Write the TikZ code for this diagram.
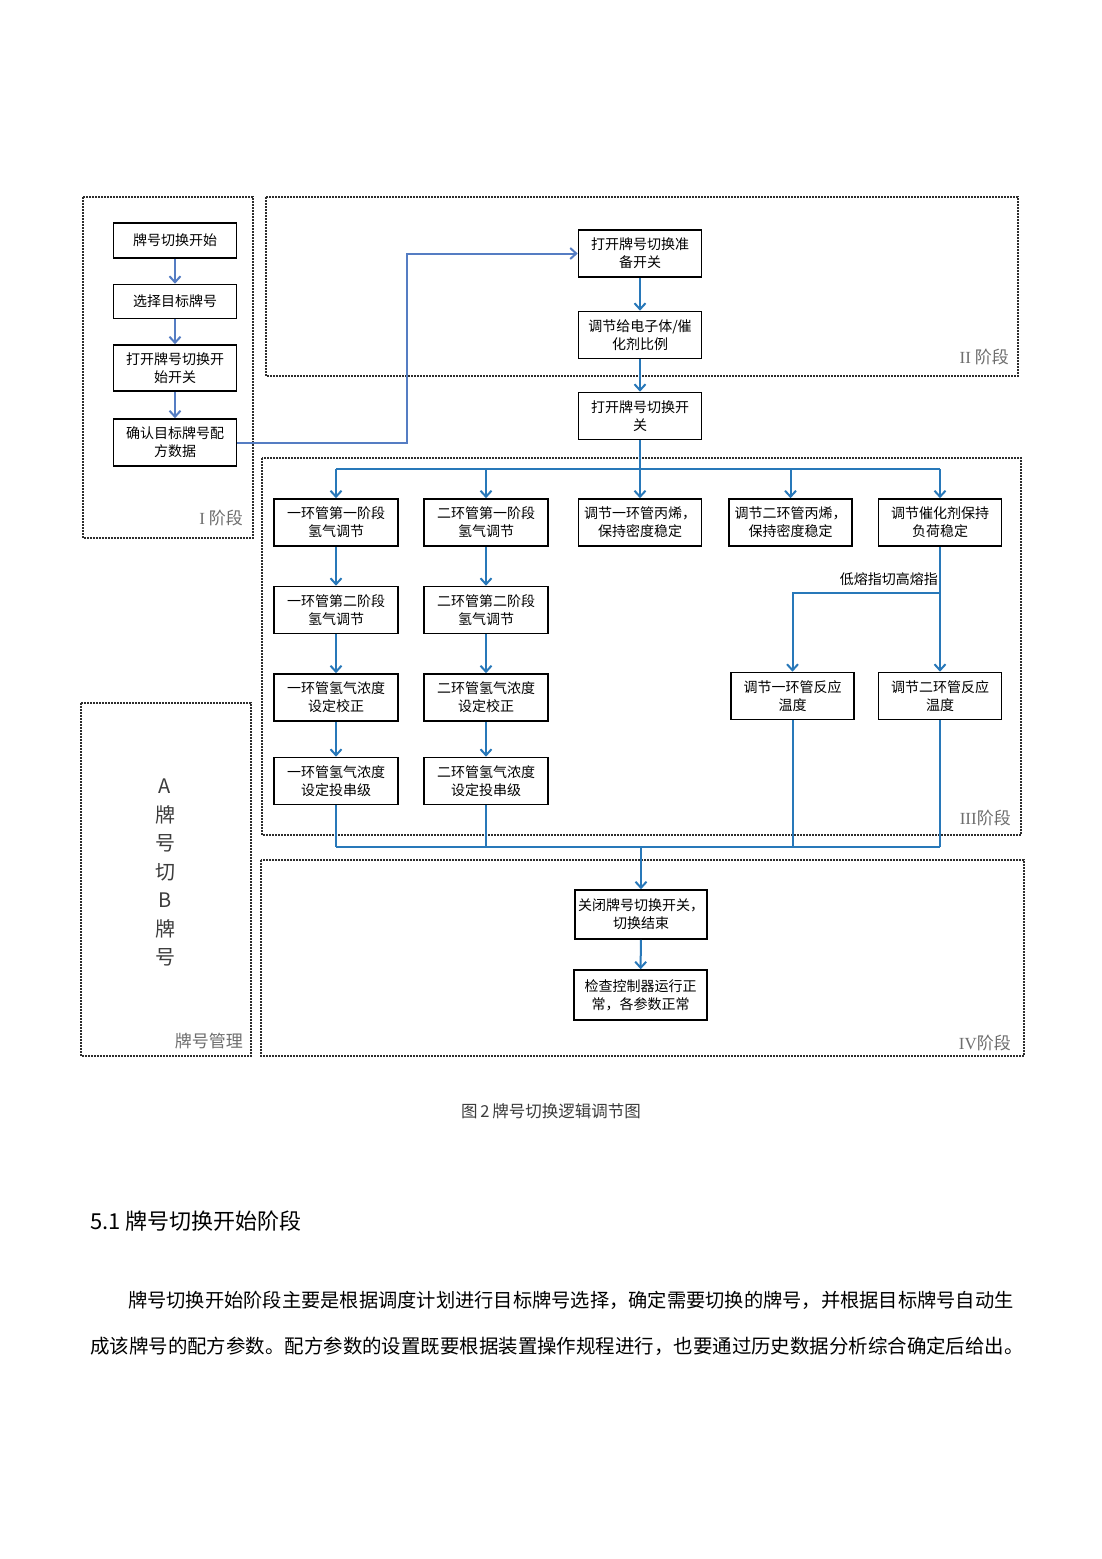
\documentclass[tikz,border=0pt]{standalone}
\usepackage{fontspec}
\setmainfont{Noto Sans CJK SC}
\newfontfamily\romanfont{Liberation Serif}
\usepackage{xcolor}
\usetikzlibrary{positioning,calc,arrows.meta}
\definecolor{flowblue}{RGB}{40,120,185}
\definecolor{linkblue}{RGB}{85,125,195}
\definecolor{framegray}{RGB}{45,45,45}
\definecolor{labelgray}{RGB}{110,110,110}
\definecolor{captiongray}{RGB}{60,60,60}

\begin{document}
\begin{tikzpicture}[x=1pt,y=-1pt,
    box/.style={draw,line width=1.6pt,minimum width=123pt,minimum height=47pt,inner sep=1pt,align=center,font=\fontsize{14}{18}\selectfont},
    frame/.style={draw=framegray,line width=1.6pt,dash pattern=on 1.6pt off 1.4pt},
    flow/.style={draw=flowblue,line width=2pt},
    link/.style={draw=linkblue,line width=2pt},
    tip/.style={-{Straight Barb[length=6pt,width=11pt]}},
    stagelabel/.style={anchor=east,inner sep=0pt,text=labelgray,font=\fontsize{17}{20}\selectfont}]

    % Page
    \path[fill=white] (0,0) rectangle (1102,1559);
    \useasboundingbox (0,0) rectangle (1102,1559);

    % Stage frames
    \draw[frame] (83,197) rectangle (253,538);
    \draw[frame] (266,197) rectangle (1018,376);
    \draw[frame] (262,458) rectangle (1021,835);
    \draw[frame] (261,860) rectangle (1024,1056);
    \draw[frame] (81,703) rectangle (251,1056);

    \node[stagelabel] (stageI) at (243,518) {{\romanfont I} 阶段};
    \node[stagelabel] (stageII) at (1009,357) {{\romanfont II} 阶段};
    \node[stagelabel] (stageIII) at (1011,818) {{\romanfont III}阶段};
    \node[stagelabel] (stageIV) at (1011,1043) {{\romanfont IV}阶段};
    \node[stagelabel] (manage) at (243,1041) {牌号管理};

    % Stage I
    \node[box,minimum height=35pt] (start) at (175,240.5) {牌号切换开始};
    \node[box,minimum height=34pt] (select) at (175,301.5) {选择目标牌号};
    \node[box,minimum height=46pt] (openstart) at (175,368) {打开牌号切换开\\始开关};
    \node[box] (confirm) at (175,442.5) {确认目标牌号配\\方数据};
    \foreach \a/\b in {start/select,select/openstart,openstart/confirm}
        \draw[link,tip] (\a) -- (\b);

    % Stage II
    \node[box] (prep) at (640,253.5) {打开牌号切换准\\备开关};
    \node[box] (ratio) at (640,335) {调节给电子体/催\\化剂比例};
    \node[box] (openswitch) at (640,416) {打开牌号切换开\\关};
    \coordinate (bend) at (407,442.5);
    \draw[link,tip] (confirm.east) -- (bend) |- (prep.west);
    \draw[flow,tip] (prep) -- (ratio);
    \draw[flow,tip] (ratio) -- (openswitch);

    % Stage III
    \node[box,minimum width=124pt] (a1) at (336,522.5) {一环管第一阶段\\氢气调节};
    \node[box,minimum width=124pt] (a2) at (336,610) {一环管第二阶段\\氢气调节};
    \node[box,minimum width=124pt] (a3) at (336,697.5) {一环管氢气浓度\\设定校正};
    \node[box,minimum width=124pt] (a4) at (336,781) {一环管氢气浓度\\设定投串级};
    \node[box,minimum width=124pt] (b1) at (486,522.5) {二环管第一阶段\\氢气调节};
    \node[box,minimum width=124pt] (b2) at (486,610) {二环管第二阶段\\氢气调节};
    \node[box,minimum width=124pt] (b3) at (486,697.5) {二环管氢气浓度\\设定校正};
    \node[box,minimum width=124pt] (b4) at (486,781) {二环管氢气浓度\\设定投串级};
    \node[box] (prop1) at (640,522.5) {调节一环管丙烯，\\保持密度稳定};
    \node[box] (prop2) at (790.5,522.5) {调节二环管丙烯，\\保持密度稳定};
    \node[box] (cat) at (940,522.5) {调节催化剂保持\\负荷稳定};
    \node[box] (temp1) at (792.5,696) {调节一环管反应\\温度};
    \node[box] (temp2) at (940,696) {调节二环管反应\\温度};

    \coordinate (busIII) at (640,469);
    \draw[flow] (openswitch.south) -- (busIII);
    \draw[flow] (busIII -| a1) -- (busIII -| cat);
    \foreach \n in {a1,b1,prop1,prop2,cat}
        \draw[flow,tip] (busIII -| \n) -- (\n.north);
    \foreach \a/\b in {a1/a2,a2/a3,a3/a4,b1/b2,b2/b3,b3/b4}
        \draw[flow,tip] (\a) -- (\b);

    \coordinate (split) at (940,593);
    \draw[flow,tip] (cat) -- (temp2);
    \draw[flow,tip] (split) -| (temp1.north);
    \node[anchor=east,inner sep=0pt,font=\fontsize{14}{18}\selectfont] (melt) at (938,579) {低熔指切高熔指};

    % Stage IV
    \node[box,minimum width=132pt,minimum height=49pt] (close) at (641,914.5) {关闭牌号切换开关，\\切换结束};
    \node[box,minimum width=133pt,minimum height=50pt] (check) at (640.5,995) {检查控制器运行正\\常，各参数正常};
    \coordinate (busIV) at (641,847);
    \foreach \n in {a4,b4,temp1,temp2}
        \draw[flow] (\n.south) -- (busIV -| \n);
    \draw[flow] (busIV -| a4) -- (busIV -| temp2);
    \draw[flow,tip] (busIV) -- (close);
    \draw[flow,tip] (close) -- (check);

    % Brand management
    \node[align=center,font=\fontsize{20}{28.5}\selectfont,text=captiongray] (brands) at (165,872.5) {A\\牌\\号\\切\\B\\牌\\号};

    % Caption and text
    \node[font=\fontsize{16.5}{20}\selectfont,text=captiongray] (caption) at (551,1111) {图\,2\,牌号切换逻辑调节图};
    \node[anchor=west,inner sep=0pt,font=\fontsize{22}{26}\selectfont] (heading) at (90,1221) {5.1 牌号切换开始阶段};
    \node[anchor=west,inner sep=0pt,font=\fontsize{19.25}{24}\selectfont] (para1) at (128,1300) {牌号切换开始阶段主要是根据调度计划进行目标牌号选择，确定需要切换的牌号，并根据目标牌号自动生};
    \node[anchor=west,inner sep=0pt,font=\fontsize{19.45}{24}\selectfont] (para2) at (90,1346) {成该牌号的配方参数。配方参数的设置既要根据装置操作规程进行，也要通过历史数据分析综合确定后给出。};
\end{tikzpicture}
\end{document}
